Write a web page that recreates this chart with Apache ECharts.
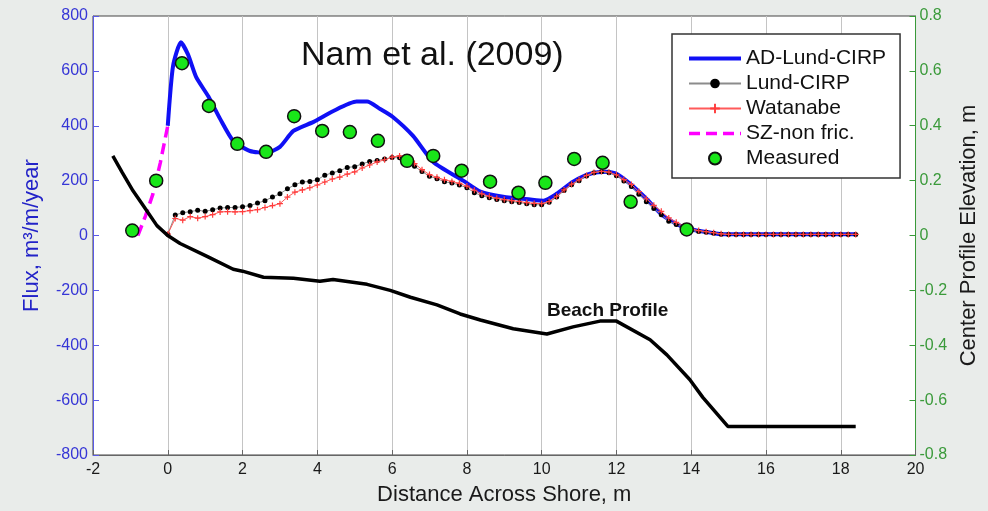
<!DOCTYPE html>
<html>
<head>
<meta charset="utf-8">
<script src="https://cdn.jsdelivr.net/npm/echarts@6/dist/echarts.min.js"></script>
<style>
  html, body { margin: 0; padding: 0; background: #e9ecea; }
  #main { width: 988px; height: 511px; }
</style>
</head>
<body>
<div id="main"></div>
<script>
// model grid (m) shared by Lund-CIRP and Watanabe
const gridX = [
  0, 0.2, 0.4, 0.6, 0.8, 1, 1.2, 1.4, 1.6, 1.8,
  2, 2.2, 2.4, 2.6, 2.8, 3, 3.2, 3.4, 3.6, 3.8,
  4, 4.2, 4.4, 4.6, 4.8, 5, 5.2, 5.4, 5.6, 5.8,
  6, 6.2, 6.4, 6.6, 6.8, 7, 7.2, 7.4, 7.6, 7.8,
  8, 8.2, 8.4, 8.6, 8.8, 9, 9.2, 9.4, 9.6, 9.8,
  10, 10.2, 10.4, 10.6, 10.8, 11, 11.2, 11.4, 11.6, 11.8,
  12, 12.2, 12.4, 12.6, 12.8, 13, 13.2, 13.4, 13.6, 13.8,
  14, 14.2, 14.4, 14.6, 14.8, 15, 15.2, 15.4, 15.6, 15.8,
  16, 16.2, 16.4, 16.6, 16.8, 17, 17.2, 17.4, 17.6, 17.8,
  18, 18.2, 18.4
]
const lundFlux = [
  5, 75, 83, 87, 92, 88, 94, 100, 102, 102,
  105, 109, 118, 127, 140, 152, 170, 185, 195, 197,
  203, 220, 228, 236, 248, 251, 261, 270, 273, 279,
  284, 283, 272, 252, 233, 216, 207, 196, 191, 184,
  174, 156, 145, 138, 131, 127, 123, 120, 116, 112,
  112, 121, 140, 164, 185, 200, 217, 229, 232, 229,
  218, 199, 179, 150, 123, 98, 76, 52, 40, 29,
  18, 15, 12, 8, 5, 4, 4, 4, 4, 4,
  4, 4, 4, 4, 4, 4, 4, 4, 4, 4,
  4, 4, 4
]
const watanabeFlux = [
  5, 62, 56, 69, 63, 69, 76, 86, 87, 86,
  87, 91, 94, 102, 109, 116, 140, 158, 166, 174,
  184, 195, 206, 213, 224, 232, 246, 257, 268, 276,
  286, 290, 283, 262, 240, 222, 212, 203, 197, 190,
  180, 165, 152, 143, 136, 131, 127, 124, 120, 117,
  116, 124, 143, 166, 187, 203, 219, 230, 234, 231,
  221, 204, 186, 160, 134, 110, 88, 64, 48, 35,
  24, 18, 14, 10, 6, 4, 4, 4, 4, 4,
  4, 4, 4, 4, 4, 4, 4, 4, 4, 4,
  4, 4, 4
]

// AD-Lund-CIRP
const adX = [0, 0.14, 0.35, 0.54, 0.76, 1.08, 1.4, 1.75, 2.2, 2.65, 3.0, 3.36, 3.9, 4.43, 5.05, 5.33, 5.68, 6.02, 6.56, 7.1, 7.9, 8.36, 8.97, 9.7, 10.05, 10.4, 10.84, 11.3, 11.75, 12.0, 12.36, 12.8, 13.24, 13.7, 14.14, 14.5, 14.8, 18.4]
const adFlux = [400, 617, 704, 660, 577, 508, 425, 345, 308, 301, 323, 381, 414, 454, 488, 488, 461, 432, 363, 268, 200, 160, 141, 131, 127, 152, 196, 225, 232, 225, 189, 134, 73, 36, 18, 11, 5, 5]

// SZ-non fric.
const szX = [-0.8, -0.6, -0.4, -0.2, 0]
const szFlux = [0, 70, 150, 265, 400]

// Measured
const measX = [-0.95, -0.31, 0.38, 1.1, 1.86, 2.63, 3.38, 4.13, 4.87, 5.62, 6.4, 7.1, 7.86, 8.62, 9.38, 10.1, 10.87, 11.63, 12.38, 13.88]
const measFlux = [18, 200, 628, 472, 334, 305, 435, 381, 377, 345, 272, 290, 236, 196, 156, 192, 279, 265, 123, 22]

// Beach profile (right axis, m)
const beachX = [-1.47, -1.22, -0.93, -0.69, -0.29, 0, 0.33, 1.05, 1.75, 2.0, 2.56, 3.36, 4.07, 4.42, 5.33, 5.95, 6.49, 7.2, 7.82, 8.36, 9.24, 10.14, 10.84, 11.56, 12.0, 12.9, 13.35, 13.96, 14.31, 14.98, 18.4]
const beachElev = [0.29, 0.23, 0.163, 0.116, 0.036, 0, -0.029, -0.076, -0.123, -0.13, -0.152, -0.156, -0.167, -0.16, -0.178, -0.2, -0.225, -0.253, -0.286, -0.308, -0.34, -0.359, -0.333, -0.312, -0.312, -0.38, -0.435, -0.525, -0.59, -0.696, -0.696]

const fluxTicks = [-800, 800, 200]
const elevTicks = [-0.8, 0.8, 0.2]
const distTicks = [-2, 20, 2]

function pairs(xs, ys) {
  return xs.map((x, i) => [x, ys[i]])
}

const plusPath = 'path://M4,0H6V4H10V6H6V10H4V6H0V4H4Z'
const blue = '#3636d6'
const green = '#3a9a3a'

let chart = echarts.init(document.getElementById('main'))
chart.setOption({
  backgroundColor: '#e9ecea',
  animation: false,
  textStyle: { fontFamily: 'Liberation Sans, Arial, sans-serif' },
  title: [
    {
      text: 'Nam et al. (2009)',
      left: 296, top: 34,
      textStyle: { fontSize: 34, fontWeight: 'normal', color: '#111' }
    },
    {
      text: 'Beach Profile',
      left: 542, top: 296,
      textStyle: { fontSize: 19, fontWeight: 'bold', color: '#111' }
    }
  ],
  grid: {
    left: 93, right: 72, top: 16, bottom: 54,
    show: true, backgroundColor: '#fff', borderColor: '#444', borderWidth: 1
  },
  legend: {
    left: 672, top: 34,
    orient: 'vertical',
    padding: [14, 14, 9, 15],
    itemGap: 4,
    itemWidth: 52, itemHeight: 12,
    backgroundColor: '#fff',
    borderColor: '#333', borderWidth: 1.5,
    textStyle: { fontSize: 21, color: '#111', lineHeight: 20 },
    data: [
      { name: 'AD-Lund-CIRP', itemStyle: { opacity: 0 }, lineStyle: { width: 4, color: '#1010f5' } },
      { name: 'Lund-CIRP' },
      { name: 'Watanabe' },
      { name: 'SZ-non fric.', itemStyle: { opacity: 0 }, lineStyle: { width: 3.5, color: '#ff00ff', type: [11, 6] } },
      { name: 'Measured' }
    ]
  },
  xAxis: {
    type: 'value',
    min: distTicks[0], max: distTicks[1], interval: distTicks[2],
    name: 'Distance Across Shore, m',
    nameLocation: 'middle', nameGap: 29,
    nameTextStyle: { fontSize: 22, color: '#1a1a1a' },
    axisLine: { onZero: false, lineStyle: { color: '#666', width: 1 } },
    axisTick: { inside: true, length: 5, lineStyle: { color: '#666' } },
    axisLabel: { fontSize: 16, color: '#1a1a1a', margin: 7 },
    splitLine: { show: true, lineStyle: { color: '#c4c4c4', width: 1 } }
  },
  yAxis: [
    {
      type: 'value', position: 'left',
      min: fluxTicks[0], max: fluxTicks[1], interval: fluxTicks[2],
      name: 'Flux, m³/m/year',
      nameLocation: 'middle', nameGap: 50, nameRotate: 90,
      nameTextStyle: { fontSize: 22, color: '#2323c8' },
      axisLine: { show: true, onZero: false, lineStyle: { color: '#5a5ae6', width: 1 } },
      axisTick: { show: true, inside: true, length: 6, lineStyle: { color: '#5a5ae6' } },
      axisLabel: { fontSize: 16, color: blue, margin: 5 },
      splitLine: { show: false }
    },
    {
      type: 'value', position: 'right',
      min: elevTicks[0], max: elevTicks[1], interval: elevTicks[2],
      name: 'Center Profile Elevation, m',
      nameLocation: 'middle', nameGap: 38, nameRotate: 90,
      nameTextStyle: { fontSize: 22, color: '#1a1a1a' },
      axisLine: { show: true, onZero: false, lineStyle: { color: green, width: 1 } },
      axisTick: { show: true, inside: true, length: 6, lineStyle: { color: green } },
      axisLabel: { fontSize: 16, color: green, margin: 4, formatter: v => String(+v.toFixed(1)) },
      splitLine: { show: false }
    }
  ],
  series: [
    {
      name: 'AD-Lund-CIRP', type: 'line', yAxisIndex: 0,
      data: pairs(adX, adFlux),
      symbol: 'none', smooth: 0.2,
      lineStyle: { color: '#1010f5', width: 4 },
      itemStyle: { color: '#1010f5' },
      z: 2
    },
    {
      name: 'Lund-CIRP', type: 'line', yAxisIndex: 0,
      data: pairs(gridX, lundFlux),
      symbol: 'circle', symbolSize: 5,
      lineStyle: { color: '#8c8c8c', width: 1 },
      itemStyle: { color: '#000' },
      z: 3
    },
    {
      name: 'Watanabe', type: 'line', yAxisIndex: 0,
      data: pairs(gridX, watanabeFlux),
      symbol: plusPath, symbolSize: 6,
      lineStyle: { color: '#ff5a5a', width: 1 },
      itemStyle: { color: '#ff3c3c' },
      z: 4
    },
    {
      name: 'SZ-non fric.', type: 'line', yAxisIndex: 0,
      data: pairs(szX, szFlux),
      symbol: 'none',
      lineStyle: { color: '#ff00ff', width: 3.5, type: [11, 6] },
      itemStyle: { color: '#ff00ff' },
      z: 4
    },
    {
      name: 'Beach Profile', type: 'line', yAxisIndex: 1,
      data: pairs(beachX, beachElev),
      symbol: 'none',
      lineStyle: { color: '#000', width: 3.5 },
      z: 5
    },
    {
      name: 'Measured', type: 'scatter', yAxisIndex: 0,
      data: pairs(measX, measFlux),
      symbol: 'circle', symbolSize: 13,
      itemStyle: { color: '#19e619', borderColor: '#111', borderWidth: 1.5, opacity: 1 },
      z: 6
    }
  ]
})
</script>
</body>
</html>
